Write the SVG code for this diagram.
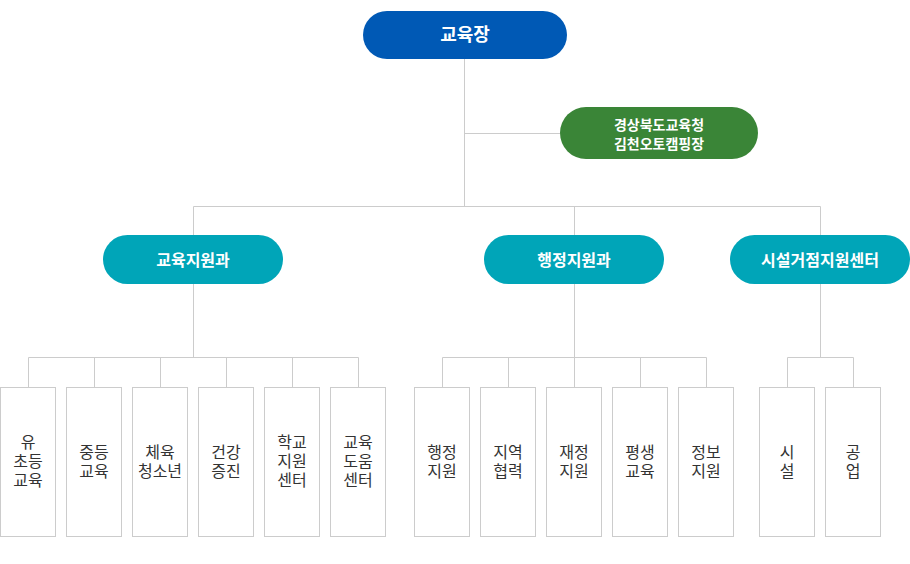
<svg xmlns="http://www.w3.org/2000/svg" width="910" height="564" viewBox="0 0 910 564">
<style>
.ln{stroke:#cccccc;stroke-width:1;fill:none}
.box{fill:#ffffff;stroke:#cccccc;stroke-width:1}
.bt{font-family:"Noto Sans CJK KR","Noto Sans",sans-serif;font-size:16px;fill:#333333;text-anchor:middle}
.pt{font-family:"Noto Sans CJK KR","Noto Sans",sans-serif;fill:#ffffff;text-anchor:middle;font-weight:700}
.teal{fill:#00a5b8}
</style>
<rect width="910" height="564" fill="#ffffff"/>
<g id="connectors">
<path class="ln" d="M464.5 59V206.5M464.5 133.5H560M193.5 206.5H820.5M193.5 206.5V235M574.5 206.5V235M820.5 206.5V235"/>
<path class="ln" d="M193.5 284V357.5M28.5 357.5H358.5M28.5 357.5V387M94.5 357.5V387M160.5 357.5V387M226.5 357.5V387M292.5 357.5V387M358.5 357.5V387"/>
<path class="ln" d="M574.5 284V357.5M442.5 357.5H706.5M442.5 357.5V387M508.5 357.5V387M574.5 357.5V387M640.5 357.5V387M706.5 357.5V387"/>
<path class="ln" d="M820.5 284V357.5M787.5 357.5H853.5M787.5 357.5V387M853.5 357.5V387"/>
</g>
<g id="n-top"><rect x="363" y="11" width="204" height="48" rx="24" fill="#0059b5"/><text class="pt" x="465" y="41" font-size="18">교육장</text></g>
<g id="n-camp"><rect x="560" y="107" width="198" height="52" rx="26" fill="#3a8537"/><text class="pt" font-size="14"><tspan x="659" y="130">경상북도교육청</tspan><tspan x="659" y="149">김천오토캠핑장</tspan></text></g>
<g id="n-edu"><rect class="teal" x="103" y="235" width="180" height="49" rx="24.5"/><text class="pt" x="193" y="266" font-size="16">교육지원과</text></g>
<g id="n-adm"><rect class="teal" x="484" y="235" width="180" height="49" rx="24.5"/><text class="pt" x="574" y="266" font-size="16">행정지원과</text></g>
<g id="n-fac"><rect class="teal" x="730" y="235" width="180" height="49" rx="24.5"/><text class="pt" x="820" y="266" font-size="16">시설거점지원센터</text></g>
<g id="b1"><rect class="box" x="0.5" y="387.5" width="55" height="149"/><text class="bt"><tspan x="28" y="448">유</tspan><tspan x="28" y="467">초등</tspan><tspan x="28" y="486">교육</tspan></text></g>
<g id="b2"><rect class="box" x="66.5" y="387.5" width="55" height="149"/><text class="bt"><tspan x="94" y="458">중등</tspan><tspan x="94" y="477">교육</tspan></text></g>
<g id="b3"><rect class="box" x="132.5" y="387.5" width="55" height="149"/><text class="bt"><tspan x="160" y="458">체육</tspan><tspan x="160" y="477">청소년</tspan></text></g>
<g id="b4"><rect class="box" x="198.5" y="387.5" width="55" height="149"/><text class="bt"><tspan x="226" y="458">건강</tspan><tspan x="226" y="477">증진</tspan></text></g>
<g id="b5"><rect class="box" x="264.5" y="387.5" width="55" height="149"/><text class="bt"><tspan x="292" y="448">학교</tspan><tspan x="292" y="467">지원</tspan><tspan x="292" y="486">센터</tspan></text></g>
<g id="b6"><rect class="box" x="330.5" y="387.5" width="55" height="149"/><text class="bt"><tspan x="358" y="448">교육</tspan><tspan x="358" y="467">도움</tspan><tspan x="358" y="486">센터</tspan></text></g>
<g id="b7"><rect class="box" x="414.5" y="387.5" width="55" height="149"/><text class="bt"><tspan x="442" y="458">행정</tspan><tspan x="442" y="477">지원</tspan></text></g>
<g id="b8"><rect class="box" x="480.5" y="387.5" width="55" height="149"/><text class="bt"><tspan x="508" y="458">지역</tspan><tspan x="508" y="477">협력</tspan></text></g>
<g id="b9"><rect class="box" x="546.5" y="387.5" width="55" height="149"/><text class="bt"><tspan x="574" y="458">재정</tspan><tspan x="574" y="477">지원</tspan></text></g>
<g id="b10"><rect class="box" x="612.5" y="387.5" width="55" height="149"/><text class="bt"><tspan x="640" y="458">평생</tspan><tspan x="640" y="477">교육</tspan></text></g>
<g id="b11"><rect class="box" x="678.5" y="387.5" width="55" height="149"/><text class="bt"><tspan x="706" y="458">정보</tspan><tspan x="706" y="477">지원</tspan></text></g>
<g id="b12"><rect class="box" x="759.5" y="387.5" width="55" height="149"/><text class="bt"><tspan x="787" y="458">시</tspan><tspan x="787" y="477">설</tspan></text></g>
<g id="b13"><rect class="box" x="825.5" y="387.5" width="55" height="149"/><text class="bt"><tspan x="853" y="458">공</tspan><tspan x="853" y="477">업</tspan></text></g>
</svg>
